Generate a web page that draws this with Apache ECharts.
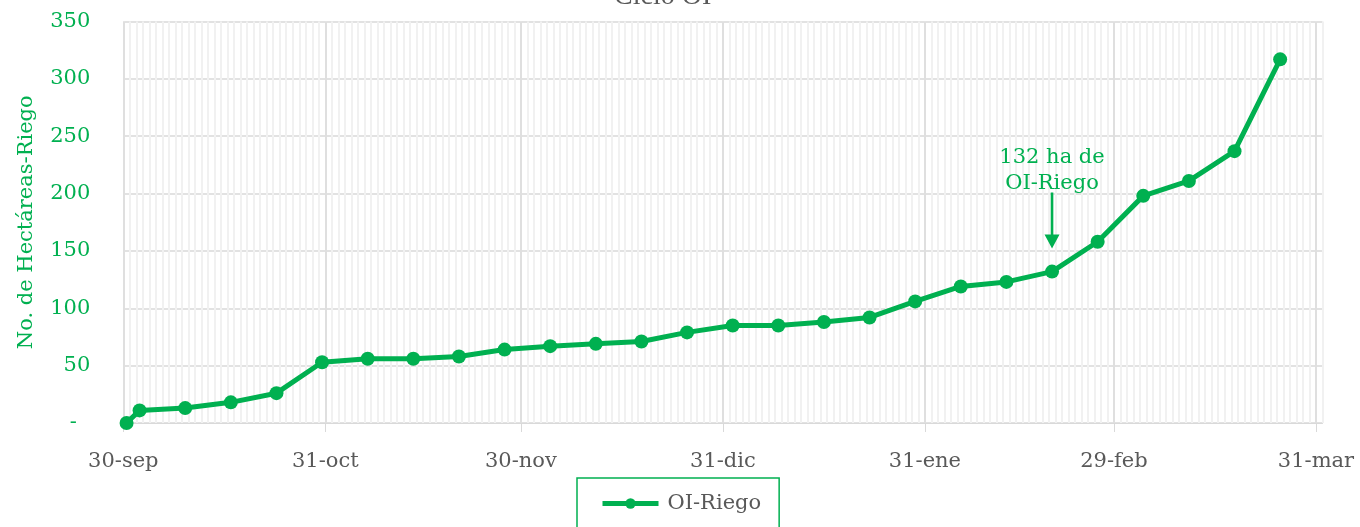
<!DOCTYPE html>
<html>
<head>
<meta charset="utf-8">
<script src="https://cdn.jsdelivr.net/npm/echarts@6/dist/echarts.min.js"></script>
<style>
html,body{margin:0;padding:0;background:#fff;}
#chart{width:1360px;height:527px;}
</style>
</head>
<body>
<div id="chart"></div>
<script>
// ---- data ----
const dates = ['2023-09-30','2023-10-02','2023-10-09','2023-10-16','2023-10-23','2023-10-30',
  '2023-11-06','2023-11-13','2023-11-20','2023-11-27','2023-12-04','2023-12-11','2023-12-18',
  '2023-12-25','2024-01-01','2024-01-08','2024-01-15','2024-01-22','2024-01-29','2024-02-05',
  '2024-02-12','2024-02-19','2024-02-26','2024-03-04','2024-03-11','2024-03-18','2024-03-25'];
const values = [0, 11, 13, 18, 26, 53, 56, 56, 58, 64, 67, 69, 71, 79, 85, 85, 88, 92, 106, 119,
  123, 132, 158, 198, 211, 237, 317];
const seriesName = 'OI-Riego';
const tickDates = ['2023-09-30','2023-10-31','2023-11-30','2023-12-31','2024-01-31','2024-02-29','2024-03-31'];
const tickLabels = ['30-sep','31-oct','30-nov','31-dic','31-ene','29-feb','31-mar'];
const axisStart = '2023-09-30';
const axisEnd = '2024-04-01';
const yTicks = [0, 50, 100, 150, 200, 250, 300, 350];
const annotationDate = '2024-02-19';
const titleText = 'Ciclo OI';
const yAxisTitle = 'No. de Hectáreas-Riego';

// ---- helpers ----
function utc(s){ const p = s.split('-').map(Number); return Date.UTC(p[0], p[1]-1, p[2]); }
function dayNum(s){ return (utc(s) - utc(axisStart)) / 864e5; }
const GREEN = '#00B050';
const GRAY = '#595959';
const FONT = 'DejaVu Serif';
const FS = 21;

const tickDays = tickDates.map(dayNum);
const labelByDay = {};
tickDays.forEach((d, i) => { labelByDay[d] = tickLabels[i]; });
// Excel-style date axis: each day is a slot, points sit mid-slot
const seriesData = dates.map((d, i) => [dayNum(d) + 0.5, values[i]]);
const annIdx = dates.indexOf(annotationDate);

const chart = echarts.init(document.getElementById('chart'), null, {renderer: 'canvas'});
chart.setOption({
  animation: false,
  backgroundColor: '#fff',
  title: {
    text: titleText,
    left: 614,
    top: -17,
    padding: 0,
    textStyle: {fontFamily: 'Liberation Serif', fontSize: 28, fontWeight: 'normal', color: GRAY}
  },
  grid: {left: 123.3, right: 37.5, top: 21.5, bottom: 104, containLabel: false, outerBoundsMode: 'none'},
  legend: {
    data: [seriesName],
    left: 577,
    top: 478,
    padding: [15, 18, 15, 23],
    borderColor: GREEN,
    borderWidth: 1.5,
    itemWidth: 56,
    itemHeight: 13,
    itemGap: 10,
    lineStyle: {width: 5},
    textStyle: {fontFamily: FONT, fontSize: FS, color: GRAY, padding: [0, 0, 0, 4]}
  },
  xAxis: [
    {
      type: 'value',
      min: dayNum(axisStart),
      max: dayNum(axisEnd),
      z: 2,
      axisLine: {show: true, lineStyle: {color: '#d9d9d9', width: 1}},
      axisTick: {show: true, customValues: tickDays, length: 9, lineStyle: {color: '#d9d9d9', width: 1}},
      axisLabel: {
        customValues: tickDays,
        margin: 28,
        fontFamily: FONT, fontSize: FS, color: GRAY,
        formatter: v => labelByDay[v] || ''
      },
      splitLine: {show: true, lineStyle: {color: '#d9d9d9', width: 1.5}}
    },
    {
      type: 'value',
      position: 'top',
      min: dayNum(axisStart),
      max: dayNum(axisEnd),
      interval: 1,
      z: 1,
      axisLine: {show: false},
      axisTick: {show: false},
      axisLabel: {show: false},
      splitLine: {show: true, lineStyle: {color: '#f1f1f1', width: 2}}
    }
  ],
  yAxis: {
    type: 'value',
    min: yTicks[0],
    max: yTicks[yTicks.length - 1],
    interval: yTicks[1] - yTicks[0],
    z: 0,
    name: yAxisTitle,
    nameLocation: 'middle',
    nameGap: 86,
    nameTextStyle: {fontFamily: FONT, fontSize: FS, color: GREEN},
    axisLine: {show: false},
    axisTick: {show: false},
    axisLabel: {
      margin: 33,
      fontFamily: FONT, fontSize: FS, color: GREEN,
      formatter: v => v === 0 ? '-\u00a0\u00a0' : String(v)
    },
    splitLine: {show: true, lineStyle: {color: '#d9d9d9', width: 1.5}}
  },
  series: [{
    name: seriesName,
    type: 'line',
    xAxisIndex: 0,
    data: seriesData,
    symbol: 'circle',
    symbolSize: 14,
    showAllSymbol: true,
    z: 5,
    lineStyle: {color: GREEN, width: 5},
    itemStyle: {color: GREEN},
    markPoint: {
      silent: true,
      symbol: 'path://M6.2,0 L8.8,0 L8.8,42 L15,42 L7.5,56 L0,42 L6.2,42 Z',
      symbolSize: [15, 56],
      symbolOffset: [0, -51],
      itemStyle: {color: GREEN},
      label: {
        show: true,
        position: 'top',
        distance: -4,
        fontFamily: FONT, fontSize: FS, lineHeight: 26, color: GREEN,
        formatter: p => p.value + ' ha de\nOI-Riego'
      },
      data: [{coord: seriesData[annIdx], value: values[annIdx]}]
    }
  }]
});
</script>
</body>
</html>
